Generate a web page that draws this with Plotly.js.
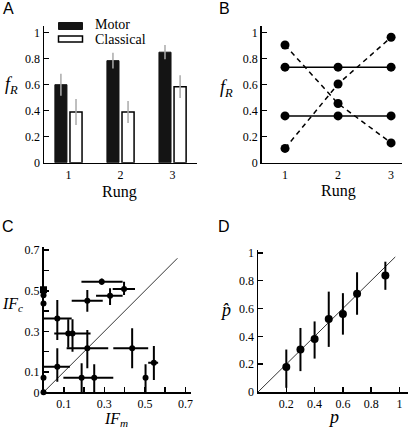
<!DOCTYPE html>
<html>
<head>
<meta charset="utf-8">
<script src="https://cdn.plot.ly/plotly-3.0.1.min.js"></script>
<style>html,body{margin:0;padding:0;background:#fff;}#chart{width:410px;height:431px;}</style>
</head>
<body>
<div id="chart"></div>
<script>
// ---------- Data ----------
// Panel A
const rungs = [1, 2, 3];
const motorFR = [0.60, 0.785, 0.85];
const motorErr = [0.085, 0.06, 0.055];
const classicalFR = [0.39, 0.39, 0.585];
const classicalErr = [0.10, 0.085, 0.087];
const legendLabels = ['Motor', 'Classical'];

// Panel B
const flatHigh = [0.735, 0.735, 0.735];
const flatLow = [0.36, 0.36, 0.36];
const descending = [0.905, 0.455, 0.152];
const ascending = [0.11, 0.605, 0.965];

// Panel C
const cX = [0.287, 0.397, 0.328, 0.216, 0.068, 0.122, 0.143, 0.216, 0.437, 0.544, 0.503, 0.068, 0.188, 0.250, 0.0, 0.0, 0.0, 0.0];
const cY = [0.545, 0.509, 0.476, 0.451, 0.364, 0.290, 0.290, 0.217, 0.217, 0.146, 0.072, 0.126, 0.072, 0.072, 0.478, 0.437, 0.072, 0.0];
const cXerrMinus = [0.100, 0.056, 0.069, 0.077, 0.068, 0.069, 0.0, 0.102, 0.093, 0.028, 0.0, 0.068, 0.090, 0.0, 0, 0, 0, 0];
const cXerrPlus  = [0.103, 0.054, 0.062, 0.076, 0.071, 0.110, 0.0, 0.103, 0.079, 0.021, 0.0, 0.062, 0.156, 0.0, 0, 0, 0, 0];
const cYerrMinus = [0.015, 0.030, 0.046, 0.054, 0.106, 0.070, 0.090, 0.099, 0.099, 0.086, 0.072, 0.074, 0.072, 0.072, 0, 0, 0, 0];
const cYerrPlus  = [0.015, 0.036, 0.036, 0.053, 0.090, 0.070, 0.070, 0.090, 0.098, 0.082, 0.066, 0.091, 0.071, 0.066, 0, 0, 0, 0];
const cSquareX = [0.0];
const cSquareY = [0.505];
const cDiag = [0, 0.66];
const cMajorTicks = [0.1, 0.3, 0.5, 0.7];
const cMinorTicks = [0.2, 0.4, 0.6];

// Panel D
const dP = [0.2, 0.3, 0.4, 0.5, 0.6, 0.7, 0.9];
const dPhat = [0.179, 0.305, 0.381, 0.524, 0.56, 0.705, 0.836];
const dErrPlus = [0.126, 0.155, 0.126, 0.197, 0.15, 0.155, 0.10];
const dErrMinus = [0.149, 0.155, 0.141, 0.200, 0.148, 0.15, 0.102];
const dDiag = [0, 0.97];
const fTicks = [0, 0.2, 0.4, 0.6, 0.8, 1];

// ---------- Helpers ----------
const W = 410, H = 431;
const px = v => v / W;
const py = v => 1 - v / H;
const SERIF = '"Liberation Serif", "Times New Roman", serif';
const SANS = '"Liberation Sans", Arial, sans-serif';

const baseAxis = {
  showline: true, linecolor: '#000', linewidth: 1.5,
  ticks: 'inside', ticklen: 5, tickwidth: 1.5, tickcolor: '#000',
  showgrid: false, zeroline: false, fixedrange: true,
  tickfont: {family: SERIF, size: 12, color: '#000'}
};
const ax = o => Object.assign({}, baseAxis, o);
const minorT = vals => ({tickvals: vals, ticks: 'inside', ticklen: 5, tickwidth: 1.5, tickcolor: '#000', showgrid: false});

// ---------- Traces ----------
const traces = [
  {type: 'bar', x: rungs, y: motorFR, name: legendLabels[0], xaxis: 'x', yaxis: 'y',
   marker: {color: '#141414', line: {color: '#141414', width: 1}},
   error_y: {type: 'data', array: motorErr, color: '#aaaaaa', thickness: 1.5, width: 0}},
  {type: 'bar', x: rungs, y: classicalFR, name: legendLabels[1], xaxis: 'x', yaxis: 'y',
   marker: {color: '#ffffff', line: {color: '#000', width: 1.5}},
   error_y: {type: 'data', array: classicalErr, color: '#aaaaaa', thickness: 1.5, width: 0}},

  {type: 'scatter', mode: 'lines+markers', x: rungs, y: flatHigh, xaxis: 'x2', yaxis: 'y2',
   line: {color: '#000', width: 1.5}, marker: {color: '#000', size: 9}, cliponaxis: false},
  {type: 'scatter', mode: 'lines+markers', x: rungs, y: flatLow, xaxis: 'x2', yaxis: 'y2',
   line: {color: '#000', width: 1.5}, marker: {color: '#000', size: 9}, cliponaxis: false},
  {type: 'scatter', mode: 'lines+markers', x: rungs, y: descending, xaxis: 'x2', yaxis: 'y2',
   line: {color: '#000', width: 1.5, dash: '5px,4px'}, marker: {color: '#000', size: 9}, cliponaxis: false},
  {type: 'scatter', mode: 'lines+markers', x: rungs, y: ascending, xaxis: 'x2', yaxis: 'y2',
   line: {color: '#000', width: 1.5, dash: '5px,4px'}, marker: {color: '#000', size: 9}, cliponaxis: false},

  {type: 'scatter', mode: 'lines', x: cDiag, y: cDiag, xaxis: 'x3', yaxis: 'y3',
   line: {color: '#000', width: 0.8}},
  {type: 'scatter', mode: 'markers', x: cX, y: cY, xaxis: 'x3', yaxis: 'y3', cliponaxis: false,
   marker: {color: '#000', size: 6},
   error_x: {type: 'data', array: cXerrPlus, arrayminus: cXerrMinus, color: '#000', thickness: 2, width: 0},
   error_y: {type: 'data', array: cYerrPlus, arrayminus: cYerrMinus, color: '#000', thickness: 2, width: 0}},
  {type: 'scatter', mode: 'markers', x: cSquareX, y: cSquareY, xaxis: 'x3', yaxis: 'y3', cliponaxis: false,
   marker: {color: '#000', size: 7, symbol: 'square'}},

  {type: 'scatter', mode: 'lines', x: dDiag, y: dDiag, xaxis: 'x4', yaxis: 'y4',
   line: {color: '#000', width: 0.8}},
  {type: 'scatter', mode: 'markers', x: dP, y: dPhat, xaxis: 'x4', yaxis: 'y4', cliponaxis: false,
   marker: {color: '#000', size: 8},
   error_y: {type: 'data', array: dErrPlus, arrayminus: dErrMinus, color: '#000', thickness: 2, width: 0}}
];

// ---------- Annotations ----------
const txt = (x, y, text, size, family, extra) => Object.assign({
  xref: 'paper', yref: 'paper', x: px(x), y: py(y), text: text, showarrow: false,
  xanchor: 'center', yanchor: 'middle', font: {family: family, size: size, color: '#000'}
}, extra || {});

const annotations = [
  txt(8, 9, 'A', 16, SANS),
  txt(224, 9, 'B', 16, SANS),
  txt(8, 227, 'C', 16, SANS),
  txt(224, 227, 'D', 16, SANS),
  txt(11, 86, '<i>f</i><sub><i>R</i></sub>', 18, SERIF),
  txt(226, 88, '<i>f</i><sub><i>R</i></sub>', 18, SERIF),
  txt(120, 192, 'Rung', 16, SERIF),
  txt(338, 191, 'Rung', 16, SERIF),
  txt(12, 304, '<i>IF</i><sub><i>c</i></sub>', 16, SERIF),
  txt(116, 419, '<i>IF</i><sub><i>m</i></sub>', 16, SERIF),
  txt(225, 310, '<i>p̂</i>', 18, SERIF),
  txt(333, 417, '<i>p</i>', 18, SERIF),
  txt(93, 25, legendLabels[0], 14, SERIF, {xanchor: 'left'}),
  txt(93, 39, legendLabels[1], 14, SERIF, {xanchor: 'left'})
];

const shapes = [
  {type: 'rect', xref: 'paper', yref: 'paper', x0: px(58.5), x1: px(82.5), y0: py(29.5), y1: py(22.5),
   fillcolor: '#141414', line: {color: '#141414', width: 1}},
  {type: 'rect', xref: 'paper', yref: 'paper', x0: px(58.5), x1: px(82.5), y0: py(42), y1: py(36),
   fillcolor: '#fff', line: {color: '#000', width: 1.5}}
];

const layout = {
  width: W, height: H, margin: {l: 0, r: 0, t: 0, b: 0},
  paper_bgcolor: '#fff', plot_bgcolor: 'rgba(0,0,0,0)',
  showlegend: false, barmode: 'group', bargap: 0.42, bargroupgap: 0.2,
  xaxis: ax({domain: [px(44), px(197)], range: [0.53, 3.47], anchor: 'y', ticks: '',
             tickvals: rungs, ticktext: rungs.map(String)}),
  yaxis: ax({domain: [py(162.7), py(26.2)], range: [0, 1.05], anchor: 'x',
             tickvals: fTicks, ticktext: fTicks.map(String)}),
  xaxis2: ax({domain: [px(261.7), px(401.7)], range: [0.56, 3.2], anchor: 'y2', ticks: '',
              tickvals: rungs, ticktext: rungs.map(String)}),
  yaxis2: ax({domain: [py(162.7), py(26.2)], range: [0, 1.05], anchor: 'x2',
              tickvals: fTicks, ticktext: fTicks.map(String)}),
  xaxis3: ax({domain: [px(43.5), px(191)], range: [0, 0.727], anchor: 'y3',
              tickvals: cMajorTicks, ticktext: cMajorTicks.map(String), minor: minorT(cMinorTicks)}),
  yaxis3: ax({domain: [py(392.3), py(246.7)], range: [0, 0.717], anchor: 'x3',
              tickvals: [0].concat(cMajorTicks), ticktext: [0].concat(cMajorTicks).map(String), minor: minorT(cMinorTicks)}),
  xaxis4: ax({domain: [px(258), px(408)], range: [0, 1.06], anchor: 'y4',
              tickvals: fTicks.slice(1), ticktext: fTicks.slice(1).map(String)}),
  yaxis4: ax({domain: [py(392), py(250)], range: [0, 1.02], anchor: 'x4',
              tickvals: fTicks, ticktext: fTicks.map(String)}),
  annotations: annotations,
  shapes: shapes
};

Plotly.newPlot('chart', traces, layout, {displayModeBar: false, staticPlot: true});
</script>
</body>
</html>
